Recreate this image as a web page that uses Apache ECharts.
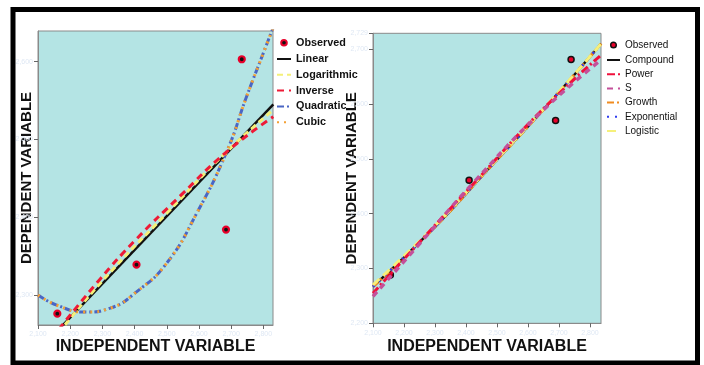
<!DOCTYPE html>
<html><head><meta charset="utf-8">
<script src="https://cdn.jsdelivr.net/npm/echarts@6/dist/echarts.min.js"></script>
<style>html,body{margin:0;padding:0;background:#fff}#c{width:704px;height:365px}</style>
</head><body><div id="c"></div>
<script>
// ---- data ----
const xTicks = [2100, 2200, 2300, 2400, 2500, 2600, 2700, 2800];
const leftYTicks = [2300, 2400, 2500, 2600];
const rightYTicks = [2200, 2300, 2400, 2500, 2600, 2700];

const leftObserved = [[2160, 2276], [2406, 2339], [2684, 2384], [2733, 2603]];
const leftLinear = [[2140, 2245], [2831, 2545]];
const leftLogarithmic = [[2165, 2252], [2300, 2318], [2500, 2405], [2686, 2484], [2831, 2538]];
const leftInverse = [[2165, 2256], [2292, 2320], [2406, 2372], [2541, 2427], [2686, 2484], [2831, 2529]];
const leftQuadratic = [[2100, 2300], [2158, 2287], [2246, 2278], [2324, 2283], [2406, 2304], [2500, 2341], [2593, 2405], [2686, 2484], [2748, 2555], [2800, 2611], [2830, 2643]];
const leftCubic = [[2100, 2300], [2158, 2287], [2246, 2278], [2324, 2283], [2406, 2304], [2500, 2341], [2593, 2405], [2686, 2484], [2748, 2555], [2800, 2611], [2830, 2643]];

const rightObserved = [[2156, 2288], [2410, 2461], [2689, 2570], [2739, 2681]];
const rightCompound = [[2100, 2267], [2300, 2376], [2468, 2479], [2650, 2590], [2836, 2710]];
const rightPower = [[2100, 2255], [2250, 2348], [2425, 2455], [2640, 2586], [2833, 2688]];
const rightS = [[2100, 2249], [2250, 2345], [2425, 2457], [2640, 2584], [2830, 2678]];
const rightGrowth = [[2100, 2267], [2300, 2376], [2468, 2479], [2650, 2590], [2836, 2710]];
const rightExponential = [[2100, 2267], [2300, 2376], [2468, 2479], [2650, 2590], [2836, 2710]];
const rightLogistic = [[2100, 2270], [2300, 2378], [2468, 2480], [2650, 2591], [2836, 2710]];

// ---- styles ----
const PLOT_BG = '#b4e4e4';
const AX = '#8a8a8a';
const FAINT = '#dfe8f4';
const FONT = '"Liberation Sans",Arial,sans-serif';
const HIDDEN_DOT = { color: 'rgba(0,0,0,0)', borderColor: 'rgba(0,0,0,0)', borderWidth: 0, opacity: 0 };
const DOT_ICON = 'path://M0,0M10,10M5,2.2A2.8,2.8,0,1,1,5,7.8A2.8,2.8,0,1,1,5,2.2Z';

function xAxisCfg(gridIndex, max, gap) {
  return {
    type: 'value', gridIndex, min: 2100, max, interval: 100,
    name: 'INDEPENDENT VARIABLE', nameLocation: 'middle', nameGap: gap, nameMoveOverlap: false,
    nameTextStyle: { fontFamily: FONT, fontWeight: 'bold', fontSize: 16, color: '#111' },
    axisLine: { show: true, lineStyle: { color: AX } },
    axisTick: { show: true, length: 4, lineStyle: { color: '#666' } },
    axisLabel: { color: FAINT, fontSize: 7, margin: 6 },
    splitLine: { show: false }
  };
}

function legendItems(names) {
  return names.map(n => ({ name: n, itemStyle: HIDDEN_DOT }));
}

const option = {
  animation: false,
  backgroundColor: '#fff',
  graphic: [{
    type: 'rect', shape: { x: 13, y: 9.5, width: 684.5, height: 353.5 },
    style: { fill: 'none', stroke: '#000', lineWidth: 5 }, z: 100
  }],
  grid: [
    { left: 38, top: 31, width: 235, height: 294, show: true, backgroundColor: PLOT_BG, borderColor: AX, borderWidth: 1 },
    { left: 373, top: 33.3, width: 228, height: 290, show: true, backgroundColor: PLOT_BG, borderColor: AX, borderWidth: 1 }
  ],
  xAxis: [xAxisCfg(0, 2830, 14), xAxisCfg(1, 2835.5, 15)],
  yAxis: [
    {
      type: 'value', gridIndex: 0, min: 2261.4, max: 2639.3,
      name: 'DEPENDENT VARIABLE', nameLocation: 'middle', nameGap: 4, nameMoveOverlap: false,
      nameTextStyle: { fontFamily: FONT, fontWeight: 'bold', fontSize: 15, color: '#111' },
      axisLine: { show: true, lineStyle: { color: AX } },
      axisTick: { show: true, length: 4, lineStyle: { color: '#666' }, customValues: leftYTicks },
      axisLabel: { color: FAINT, fontSize: 7, margin: 5, customValues: leftYTicks },
      splitLine: { show: false }
    },
    {
      type: 'value', gridIndex: 1, min: 2200, max: 2729, interval: 100,
      name: 'DEPENDENT VARIABLE', nameLocation: 'middle', nameGap: 14, nameMoveOverlap: false,
      nameTextStyle: { fontFamily: FONT, fontWeight: 'bold', fontSize: 15, color: '#111' },
      axisLine: { show: true, lineStyle: { color: AX } },
      axisTick: { show: true, length: 4, lineStyle: { color: '#666' } },
      axisLabel: { color: FAINT, fontSize: 7, margin: 5 },
      splitLine: { show: false }
    }
  ],
  legend: [
    {
      orient: 'vertical', left: 276, top: 36.7, padding: 0, itemWidth: 14, itemHeight: 10, itemGap: 4.8,
      textStyle: { fontFamily: FONT, fontWeight: 'bold', fontSize: 10.8, color: '#111', lineHeight: 10 },
      data: [
        { name: 'Observed', icon: DOT_ICON, itemStyle: { color: '#111', borderColor: '#e8002a', borderWidth: 2, opacity: 1 } }
      ].concat(legendItems(['Linear', 'Logarithmic', 'Inverse', 'Quadratic', 'Cubic']))
    },
    {
      orient: 'vertical', left: 606, top: 39.3, padding: 0, itemWidth: 13, itemHeight: 10, itemGap: 4.2,
      textStyle: { fontFamily: FONT, fontSize: 10, color: '#111', lineHeight: 10 },
      data: [
        { name: 'Observed', icon: DOT_ICON, itemStyle: { color: '#e8002a', borderColor: '#111', borderWidth: 1.5, opacity: 1 } }
      ].concat(legendItems(['Compound', 'Power', 'S', 'Growth', 'Exponential', 'Logistic']))
    }
  ],
  series: [
    { name: 'Observed', type: 'scatter', xAxisIndex: 0, yAxisIndex: 0, data: leftObserved, symbolSize: 6, z: 1,
      itemStyle: { color: '#111', borderColor: '#e8002a', borderWidth: 2.2, opacity: 1 } },
    { name: 'Linear', type: 'line', xAxisIndex: 0, yAxisIndex: 0, data: leftLinear, symbol: 'none', z: 3,
      lineStyle: { color: '#111', width: 2.5 } },
    { name: 'Logarithmic', type: 'line', xAxisIndex: 0, yAxisIndex: 0, data: leftLogarithmic, symbol: 'none', smooth: true, z: 4,
      lineStyle: { color: '#f4f078', width: 3, type: [6, 4] } },
    { name: 'Inverse', type: 'line', xAxisIndex: 0, yAxisIndex: 0, data: leftInverse, symbol: 'none', smooth: true, z: 5,
      lineStyle: { color: '#ee1a36', width: 3, type: [7, 5] } },
    { name: 'Quadratic', type: 'line', xAxisIndex: 0, yAxisIndex: 0, data: leftQuadratic, symbol: 'none', smooth: true, z: 3,
      lineStyle: { color: '#4a66c4', width: 3, type: [7, 3, 2, 3] } },
    { name: 'Cubic', type: 'line', xAxisIndex: 0, yAxisIndex: 0, data: leftCubic, symbol: 'none', smooth: true, z: 4,
      lineStyle: { color: '#f4a034', width: 3, type: [2, 5] } },

    { name: 'Observed', type: 'scatter', xAxisIndex: 1, yAxisIndex: 1, data: rightObserved, symbolSize: 6, z: 1,
      itemStyle: { color: '#e8002a', borderColor: '#111', borderWidth: 1.5, opacity: 1 } },
    { name: 'Compound', type: 'line', xAxisIndex: 1, yAxisIndex: 1, data: rightCompound, symbol: 'none', smooth: true, z: 3,
      lineStyle: { color: '#111', width: 2.5 } },
    { name: 'Power', type: 'line', xAxisIndex: 1, yAxisIndex: 1, data: rightPower, symbol: 'none', smooth: true, z: 6,
      lineStyle: { color: '#f0103c', width: 3, type: [8, 3, 2, 3] } },
    { name: 'S', type: 'line', xAxisIndex: 1, yAxisIndex: 1, data: rightS, symbol: 'none', smooth: true, z: 7,
      lineStyle: { color: '#c4509a', width: 3.5, type: [6, 5] } },
    { name: 'Growth', type: 'line', xAxisIndex: 1, yAxisIndex: 1, data: rightGrowth, symbol: 'none', smooth: true, z: 4,
      lineStyle: { color: '#f08c20', width: 3, type: [7, 3, 2, 3] } },
    { name: 'Exponential', type: 'line', xAxisIndex: 1, yAxisIndex: 1, data: rightExponential, symbol: 'none', smooth: true, z: 5,
      lineStyle: { color: '#2f3cf0', width: 2.5, type: [2, 6] } },
    { name: 'Logistic', type: 'line', xAxisIndex: 1, yAxisIndex: 1, data: rightLogistic, symbol: 'none', smooth: true, z: 5,
      lineStyle: { color: '#f6f07a', width: 3, type: [9, 5] } }
  ]
};

const chart = echarts.init(document.getElementById('c'), null, { renderer: 'canvas' });
chart.setOption(option);
</script>
</body></html>
